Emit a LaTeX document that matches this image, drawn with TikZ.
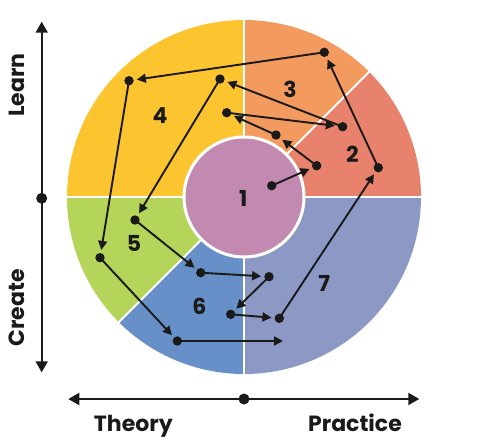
\documentclass[tikz,border=0pt]{standalone}
\usepackage{fontspec}
\setmainfont{Poppins}
\usetikzlibrary{arrows.meta}
\definecolor{cyel}{HTML}{FCC42F}
\definecolor{corg}{HTML}{F39A5F}
\definecolor{csal}{HTML}{E8826C}
\definecolor{clav}{HTML}{8C99C4}
\definecolor{cblu}{HTML}{6890C8}
\definecolor{cgrn}{HTML}{B4D55A}
\definecolor{cpnk}{HTML}{C28AB1}
\definecolor{ink}{HTML}{1A1A1A}
\tikzset{
  dot/.style={circle,fill=ink,inner sep=0pt,minimum size=9.4pt},
  flow/.style={draw=ink,line width=1.9pt,-{Triangle[length=9pt,width=9pt]},shorten >=3pt},
  axis/.style={draw=ink,line width=2pt,{Triangle[length=11pt,width=12pt]}-{Triangle[length=11pt,width=12pt]}},
  num/.style={font=\bfseries\fontsize{22}{22}\selectfont,text=ink,inner sep=0pt},
  lab/.style={font=\bfseries\fontsize{22}{22}\selectfont,text=ink,inner sep=0pt}
}
\begin{document}
\begin{tikzpicture}[x=1pt,y=1pt]
\useasboundingbox (0,0) rectangle (488,-445);
\coordinate (c) at (244,-197);
% sectors
\fill[cyel] (c) -- ++(90:177) arc[start angle=90,end angle=180,radius=177pt] -- cycle;
\fill[corg] (c) -- ++(45:177) arc[start angle=45,end angle=90,radius=177pt] -- cycle;
\fill[csal] (c) -- ++(0:177) arc[start angle=0,end angle=45,radius=177pt] -- cycle;
\fill[clav] (c) -- ++(270:177) arc[start angle=270,end angle=360,radius=177pt] -- cycle;
\fill[cblu] (c) -- ++(225:177) arc[start angle=225,end angle=270,radius=177pt] -- cycle;
\fill[cgrn] (c) -- ++(180:177) arc[start angle=180,end angle=225,radius=177pt] -- cycle;
% separators
\foreach \a in {0,45,90,180,225,270} \draw[white,line width=2pt] (c) -- ++(\a:178);
\fill[cpnk,draw=white,line width=3pt] (c) circle[radius=60pt];
% labels
\node[num] (n1) at (243.3,-198.3) {1};
\node[num] (n2) at (352.3,-154) {2};
\node[num] (n3) at (290,-89) {3};
\node[num] (n4) at (160,-116) {4};
\node[num] (n5) at (134,-243.3) {5};
\node[num] (n6) at (199.3,-306.7) {6};
\node[num] (n7) at (324.3,-283.3) {7};
% dots
\node[dot] (A) at (271.7,-185.7) {};
\node[dot] (B) at (316.7,-165.7) {};
\node[dot] (C) at (276,-135) {};
\node[dot] (D) at (226.7,-112.7) {};
\node[dot] (E) at (342.7,-126.7) {};
\node[dot] (F) at (220,-79) {};
\node[dot] (G) at (135,-220) {};
\node[dot] (H) at (200.7,-272.7) {};
\node[dot] (I) at (269,-276.7) {};
\node[dot] (J) at (230.7,-314.3) {};
\node[dot] (K) at (279.3,-318.3) {};
\node[dot] (L) at (378.3,-167.7) {};
\node[dot] (M) at (324.3,-52.3) {};
\node[dot] (N) at (129,-80.7) {};
\node[dot] (O) at (100,-257.7) {};
\node[dot] (P) at (177.3,-341) {};
\coordinate (Q) at (283,-341);
\foreach \s/\t in {A/B,B/C,C/D,D/E,E/F,F/G,G/H,H/I,I/J,J/K,K/L,L/M,M/N,N/O,O/P}
  \draw[flow] (\s.center) -- (\t);
\draw[flow,shorten >=0pt] (P.center) -- (Q);
% axes
\coordinate (vt) at (41.7,-21.7);
\coordinate (vb) at (41.7,-372.3);
\coordinate (hl) at (68.3,-399);
\coordinate (hr) at (419.3,-399);
\draw[axis] (vt) -- (vb);
\draw[axis] (hl) -- (hr);
\node[dot,minimum size=11pt] (vd) at (41.7,-198.3) {};
\node[dot,minimum size=11pt] (hd) at (244,-399) {};
\node[lab,rotate=90] (learn) at (17,-85) {Learn};
\node[lab,rotate=90] (create) at (17,-308) {Create};
\node[lab,anchor=base] (theory) at (133.3,-431) {Theory};
\node[lab,anchor=base] (practice) at (355,-431) {Practice};
\end{tikzpicture}
\end{document}
